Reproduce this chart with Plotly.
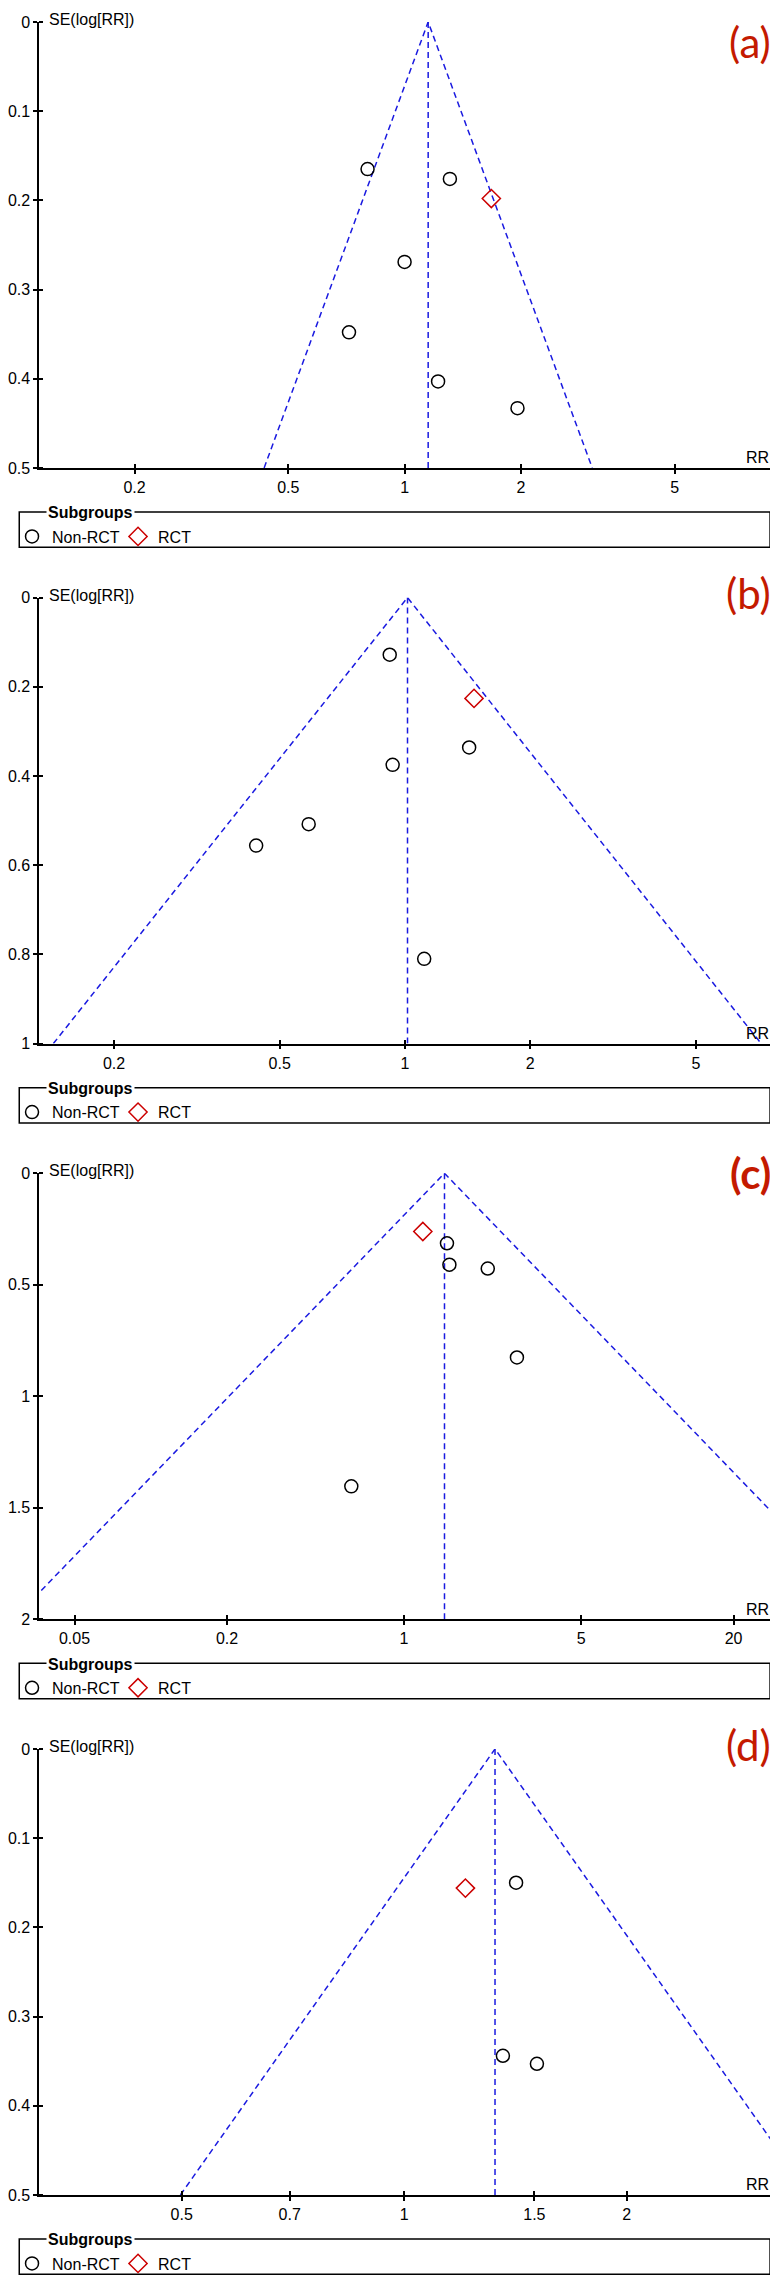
import plotly.graph_objects as go
from plotly.subplots import make_subplots

# ---- data ----
# (a)
a_nonrct_rr = [0.802, 1.31, 1.0, 0.718, 1.221, 1.96]
a_nonrct_se = [0.165, 0.176, 0.269, 0.348, 0.403, 0.433]
a_rct_rr = [1.677]
a_rct_se = [0.198]
a_pooled = 1.151
a_funnel = [0.433, 3.06]          # limits at max SE
# (b)
b_nonrct_rr = [0.919, 1.426, 0.934, 0.587, 0.439, 1.112]
b_nonrct_se = [0.128, 0.336, 0.375, 0.508, 0.556, 0.810]
b_rct_rr = [1.465]
b_rct_se = [0.226]
b_pooled = 1.014
b_funnel = [0.143, 7.17]
# (c)
c_nonrct_rr = [1.477, 1.51, 2.14, 2.79, 0.619]
c_nonrct_se = [0.314, 0.410, 0.427, 0.826, 1.404]
c_rct_rr = [1.186]
c_rct_se = [0.261]
c_pooled = 1.444
c_funnel = [0.0287, 72.6]
# (d)
d_nonrct_rr = [1.417, 1.36, 1.512]
d_nonrct_se = [0.150, 0.344, 0.353]
d_rct_rr = [1.21]
d_rct_se = [0.156]
d_pooled = 1.327
d_funnel = [0.498, 3.54]

# axis settings per panel
x_ticks = [[0.2, 0.5, 1, 2, 5], [0.2, 0.5, 1, 2, 5], [0.05, 0.2, 1, 5, 20], [0.5, 0.7, 1, 1.5, 2]]
y_ticks = [[0, 0.1, 0.2, 0.3, 0.4, 0.5], [0, 0.2, 0.4, 0.6, 0.8, 1],
           [0, 0.5, 1, 1.5, 2], [0, 0.1, 0.2, 0.3, 0.4, 0.5]]
x_ranges = [[-0.946, 0.946], [-0.879, 0.877], [-1.441, 1.445], [-0.494, 0.495]]
panel_labels = ['(a)', '(b)', '(c)', '(d)']

panels = [
    (a_nonrct_rr, a_nonrct_se, a_rct_rr, a_rct_se, a_pooled, a_funnel),
    (b_nonrct_rr, b_nonrct_se, b_rct_rr, b_rct_se, b_pooled, b_funnel),
    (c_nonrct_rr, c_nonrct_se, c_rct_rr, c_rct_se, c_pooled, c_funnel),
    (d_nonrct_rr, d_nonrct_se, d_rct_rr, d_rct_se, d_pooled, d_funnel),
]

# page is 778x2285, the html body adds an 8px margin
OFF = 8
W, H = 778 - OFF, 2285 - OFF
FONT = 'Liberation Sans, Arial, sans-serif'
BLUE = '#1a1ae0'
RED = '#cc0000'

# pixel geometry (page coordinates)
x_left, x_right = 32.3, 770
tops = [14, 594, 1174, 1754]
plot_h = 449.3
label_y = [34, 589, 1174, 1750]


def px(x):
    return (x - OFF) / W


def py(y):
    return 1 - (y - OFF) / H


fig = make_subplots(rows=4, cols=1)

shapes = []
annotations = []

for i, (nr_rr, nr_se, r_rr, r_se, pooled, funnel) in enumerate(panels):
    row = i + 1
    se_max = y_ticks[i][-1]
    leg = 'legend' if i == 0 else 'legend%d' % (i + 1)
    dash_line = dict(color=BLUE, width=1.5, dash='6px,4px')

    # funnel lines
    fig.add_trace(go.Scatter(x=[funnel[0], pooled, funnel[1]], y=[se_max, 0, se_max],
                             mode='lines', line=dash_line, showlegend=False,
                             hoverinfo='skip'), row=row, col=1)
    fig.add_trace(go.Scatter(x=[pooled, pooled], y=[0, se_max],
                             mode='lines', line=dash_line, showlegend=False,
                             hoverinfo='skip'), row=row, col=1)
    # studies
    fig.add_trace(go.Scatter(x=nr_rr, y=nr_se, mode='markers', name='Non-RCT',
                             marker=dict(symbol='circle-open', size=13, color='black',
                                         line=dict(width=1.5)),
                             legend=leg), row=row, col=1)
    fig.add_trace(go.Scatter(x=r_rr, y=r_se, mode='markers', name='RCT',
                             marker=dict(symbol='diamond-open', size=14, color=RED,
                                         line=dict(width=1.5)),
                             legend=leg), row=row, col=1)

    top = tops[i]
    bottom = top + plot_h
    xa = 'xaxis' if i == 0 else 'xaxis%d' % (i + 1)
    ya = 'yaxis' if i == 0 else 'yaxis%d' % (i + 1)
    fig.layout[xa].update(
        type='log', range=x_ranges[i], domain=[px(x_left), px(x_right)],
        tickvals=x_ticks[i], ticktext=[str(v) for v in x_ticks[i]],
        ticks='outside', ticklen=4, tickwidth=1.5, tickcolor='black',
        minor=dict(tickmode='array', tickvals=x_ticks[i], ticks='inside',
                   ticklen=4, tickwidth=1.5, tickcolor='black', showgrid=False),
        showline=True, linecolor='black', linewidth=1.5,
        showgrid=False, zeroline=False,
        tickfont=dict(family=FONT, size=16, color='black'))
    fig.layout[ya].update(
        range=[se_max, 0], domain=[py(bottom), py(top)],
        tickvals=y_ticks[i], ticktext=['%g' % v for v in y_ticks[i]],
        ticks='outside', ticklen=4, tickwidth=1.5, tickcolor='black',
        minor=dict(tickmode='array', tickvals=y_ticks[i], ticks='inside',
                   ticklen=4, tickwidth=1.5, tickcolor='black', showgrid=False),
        showline=True, linecolor='black', linewidth=1.5,
        showgrid=False, zeroline=False,
        tickfont=dict(family=FONT, size=16, color='black'))

    # axis titles
    annotations.append(dict(text='SE(log[RR])', x=px(40), y=py(top - 2.5), xref='paper', yref='paper',
                            xanchor='left', yanchor='middle', showarrow=False,
                            font=dict(family=FONT, size=16, color='black')))
    annotations.append(dict(text='RR', x=px(771), y=py(bottom - 10), xref='paper', yref='paper',
                            xanchor='right', yanchor='middle', showarrow=False,
                            font=dict(family=FONT, size=16, color='black')))
    # panel label
    annotations.append(dict(text=panel_labels[i], x=px(773), y=py(label_y[i]), xref='paper',
                            yref='paper', xanchor='right', yanchor='middle', showarrow=False,
                            font=dict(family='Lato, Open Sans, sans-serif', size=42,
                                      color='#c41a00',
                                      weight='bold' if i == 2 else 'normal')))

    # legend box
    box_top = bottom + 44.4
    box_bot = bottom + 80
    shapes.append(dict(type='rect', xref='paper', yref='paper',
                       x0=px(12.3), x1=px(770), y0=py(box_bot), y1=py(box_top),
                       line=dict(color='black', width=1.5)))
    annotations.append(dict(text='<b>Subgroups</b>', x=px(39.5), y=py(box_top + 1), xref='paper',
                            yref='paper', xanchor='left', yanchor='middle', showarrow=False,
                            bgcolor='white', borderpad=1,
                            font=dict(family=FONT, size=16, color='black')))
    fig.layout[leg] = dict(
        x=px(5), y=py(bottom + 52), xanchor='left', yanchor='top',
        orientation='h', bgcolor='rgba(0,0,0,0)', borderwidth=0,
        entrywidth=61, entrywidthmode='pixels',
        font=dict(family=FONT, size=16, color='black'),
        itemclick=False, itemdoubleclick=False)

fig.update_layout(
    width=W, height=H,
    margin=dict(l=0, r=0, t=0, b=0),
    paper_bgcolor='white', plot_bgcolor='white',
    shapes=shapes, annotations=annotations,
    showlegend=True,
)

fig.write_html("out.html")
